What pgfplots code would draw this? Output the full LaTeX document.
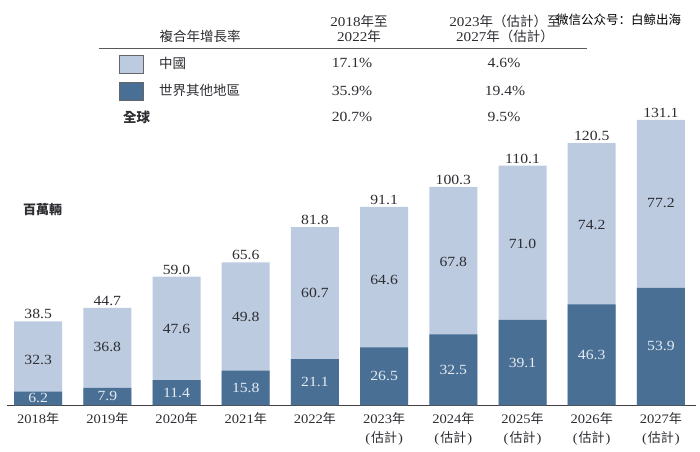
\documentclass[border=0pt]{standalone}
\usepackage{fontspec}
\setmainfont{Liberation Serif}[FakeStretch=1.12]
\newfontfamily\cjk{Noto Sans CJK TC}
\newfontfamily\cjksc{Noto Sans CJK SC}
\usepackage{pgfplots}
\pgfplotsset{compat=1.18}
\usepackage{pgfplotstable}
\definecolor{lightbar}{RGB}{188,203,224}
\definecolor{darkbar}{RGB}{74,111,148}
\definecolor{txt}{RGB}{45,45,50}
\definecolor{intxt}{RGB}{228,235,244}

\pgfplotstableread{
x dark total dmid lmid dlab llab tlab
0 6.2 38.5 3.1 20.5 6.2 32.3 38.5
1 7.9 44.7 3.95 26.5 7.9 36.8 44.7
2 11.4 59.0 5.7 35.1 11.4 47.6 59.0
3 15.8 65.6 7.9 40.6 15.8 49.8 65.6
4 21.1 81.8 10.55 51.7 21.1 60.7 81.8
5 26.5 91.1 13.25 57.7 26.5 64.6 91.1
6 32.5 100.3 16.25 65.6 32.5 67.8 100.3
7 39.1 110.1 19.55 74.3 39.1 71.0 110.1
8 46.3 120.5 23.15 82.6 46.3 74.2 120.5
9 53.9 131.1 26.95 92.7 53.9 77.2 131.1
}\data

\begin{document}
\begin{tikzpicture}[x=1pt,y=1pt]
\useasboundingbox (0,0) rectangle (700,451);
\begin{axis}[
  at={(7pt,46pt)}, anchor=south west,
  scale only axis, width=688.5pt, height=304.4pt,
  xmin=-0.45, xmax=9.5, ymin=0, ymax=140,
  axis x line=bottom, axis y line=none,
  x axis line style={-, draw=black!75, line width=1pt},
  xtick={0,...,9}, major tick length=0pt,
  xticklabels={
    {2018{\cjk 年}},{2019{\cjk 年}},{2020{\cjk 年}},{2021{\cjk 年}},{2022{\cjk 年}},
    {2023{\cjk 年}\\(\kern1pt{\cjk 估計}\kern1pt)},
    {2024{\cjk 年}\\(\kern1pt{\cjk 估計}\kern1pt)},
    {2025{\cjk 年}\\(\kern1pt{\cjk 估計}\kern1pt)},
    {2026{\cjk 年}\\(\kern1pt{\cjk 估計}\kern1pt)},
    {2027{\cjk 年}\\(\kern1pt{\cjk 估計}\kern1pt)}},
  xticklabel style={font=\fontsize{13}{19}\selectfont, text=txt, align=center, yshift=-3.5pt},
  ybar, bar width=48pt, clip=false,
]
\addplot[fill=lightbar, draw=none, bar shift=0pt, nodes near coords,
  point meta=explicit symbolic,
  every node near coord/.append style={font=\fontsize{14}{16}\selectfont, text=txt, inner sep=2pt}]
  table[x=x, y=total, meta=tlab] {\data};
\addplot[fill=darkbar, draw=none, bar shift=0pt] table[x=x, y=dark] {\data};
\addplot[draw=none, fill=none, bar shift=0pt, nodes near coords, nodes near coords align={center},
  point meta=explicit symbolic,
  every node near coord/.append style={font=\fontsize{14}{16}\selectfont, text=txt}]
  table[x=x, y=lmid, meta=llab] {\data};
\addplot[draw=none, fill=none, bar shift=0pt, nodes near coords, nodes near coords align={center},
  point meta=explicit symbolic,
  every node near coord/.append style={font=\fontsize{14}{16}\selectfont, text=intxt}]
  table[x=x, y=dmid, meta=dlab] {\data};
\end{axis}

% CAGR table
\node[font=\cjk\fontsize{13.5}{15}\selectfont, text=txt] at (200,414.3) {複合年增長率};
\node[font=\fontsize{13.5}{15}\selectfont, text=txt, align=center] at (359,421.8)
  {2018{\cjk 年至}\\2022{\cjk 年}};
\node[font=\fontsize{13.5}{15}\selectfont, text=txt, align=center] at (505,421.8)
  {2023{\cjk 年（估計）至}\\2027{\cjk 年（估計）}};
\node[font=\cjksc\fontsize{12.5}{14}\selectfont, text=black, anchor=west, inner sep=0pt] at (556,431) {微信公众号：白鲸出海};
\draw[line width=1.3pt, black!65] (99,402.7) -- (587,402.7);
\draw[fill=lightbar, draw=black!60, line width=0.8pt] (119,378) rectangle (143,396);
\draw[fill=darkbar, draw=black!60, line width=0.8pt] (119,351) rectangle (143,369);
\node[font=\cjk\fontsize{13.5}{15}\selectfont, text=txt, anchor=west, inner sep=0pt] at (159,387.7) {中國};
\node[font=\cjk\fontsize{13.5}{15}\selectfont, text=txt, anchor=west, inner sep=0pt] at (159,360.3) {世界其他地區};
\node[font=\cjk\bfseries\fontsize{13.5}{15}\selectfont, text=txt, anchor=west, inner sep=0pt] at (123,333.7) {全球};
\node[font=\fontsize{14}{16}\selectfont, text=txt] at (352,387.7) {17.1\%};
\node[font=\fontsize{14}{16}\selectfont, text=txt] at (504,387.7) {4.6\%};
\node[font=\fontsize{14}{16}\selectfont, text=txt] at (352,360.3) {35.9\%};
\node[font=\fontsize{14}{16}\selectfont, text=txt] at (505,360.3) {19.4\%};
\node[font=\fontsize{14}{16}\selectfont, text=txt] at (352,333.7) {20.7\%};
\node[font=\fontsize{14}{16}\selectfont, text=txt] at (504,333.7) {9.5\%};
\node[font=\cjk\bfseries\fontsize{13}{15}\selectfont, text=txt, anchor=west, inner sep=0pt] at (23,241) {百萬輛};
\end{tikzpicture}
\end{document}
